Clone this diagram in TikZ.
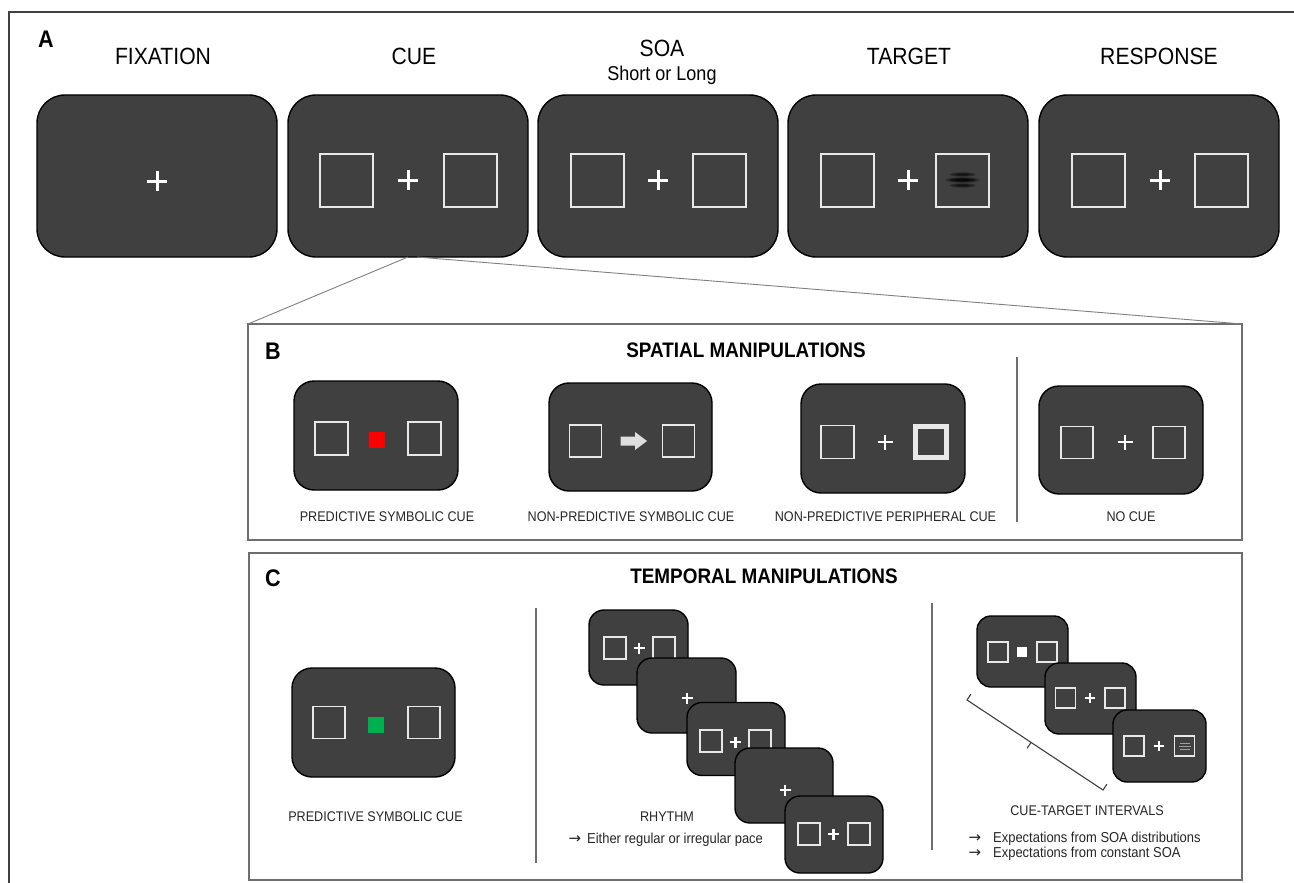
\documentclass[tikz,border=0pt]{standalone}
\usepackage{fontspec}
\setmainfont{Liberation Sans}[FakeStretch=0.9]
\newfontfamily\arrowfont{DejaVu Sans}
\usetikzlibrary{calc}
\definecolor{scrgray}{HTML}{404040}
\definecolor{sqcol}{HTML}{E8E8E8}
\definecolor{framecol}{HTML}{6E6E6E}
\definecolor{cuered}{HTML}{FF0000}
\definecolor{cuegreen}{HTML}{00B050}
\definecolor{arrowcol}{HTML}{DEDEDE}
\tikzset{
  scr/.style={draw=black, line width=1.4pt, fill=scrgray, inner sep=0pt, outer sep=0pt},
  sqline/.style={draw=sqcol},
  plusline/.style={draw=white},
  panelframe/.style={draw=framecol, line width=1.5pt, inner sep=0pt, outer sep=0pt},
  divline/.style={draw=framecol, line width=1.3pt},
  zoomline/.style={draw=gray, line width=0.9pt},
  titletxt/.style={inner sep=0pt, font=\fontsize{23.5}{26}\selectfont},
  subtitletxt/.style={inner sep=0pt, font=\fontsize{20}{23}\selectfont},
  paneltitle/.style={inner sep=0pt, font=\bfseries\fontsize{21}{24}\selectfont},
  letter/.style={inner sep=0pt, font=\bfseries\fontsize{24}{27}\selectfont},
  labtxt/.style={inner sep=0pt, font=\fontsize{14}{16}\selectfont, text=black!85},
  notetxt/.style={inner sep=0pt, font=\fontsize{14.4}{16}\selectfont, text=black!85},
  arrowtxt/.style={inner sep=0pt, font=\arrowfont\fontsize{15}{16}\selectfont, text=black!85},
  gab/.style={fill=black, opacity=.3},
}
\newcommand\Screen[6]{\node[scr,minimum width=#4pt,minimum height=#5pt,rounded corners=#6pt] (#1) at (#2,#3) {};}
\newcommand\SqBox[4]{\draw[sqline,line width=#4pt] (#1-#3/2,#2-#3/2) rectangle (#1+#3/2,#2+#3/2);}
\newcommand\PlusSign[4]{\draw[plusline,line width=#4pt] (#1-#3,#2) -- (#1+#3,#2) (#1,#2-#3) -- (#1,#2+#3);}
\newcommand\GabStripe[4]{% x y rx ry
  \fill[gab] (#1,#2) ellipse (#3 and #4);
  \fill[gab] (#1,#2) ellipse (#3*0.75 and #4*0.7);
  \fill[gab] (#1,#2) ellipse (#3*0.5 and #4*0.45);}
\begin{document}
\begin{tikzpicture}[x=1pt,y=-1pt]
\useasboundingbox[fill=white] (0,0) rectangle (1294,883);
% outer frame (cropped)
\draw[black!75, line width=1.5pt] (9,883) -- (9,12) -- (1294,12);
\node[letter] (lA) at (46,39) {A};
% ---------- Panel A -------------
\node[titletxt] (tFix) at (163,56) {FIXATION};
\node[titletxt] (tCue) at (414,56) {CUE};
\node[titletxt] (tSoa) at (662,48) {SOA};
\node[subtitletxt] (tSoa2) at (662,75) {Short or Long};
\node[titletxt] (tTar) at (909,56) {TARGET};
\node[titletxt] (tRes) at (1159,56) {RESPONSE};

\Screen{sFix}{157}{176}{240}{162}{28}
\PlusSign{157}{181}{10}{3}

\Screen{sCue}{408}{176}{240}{162}{28}
\SqBox{346}{180}{53}{2}
\SqBox{470}{180}{53}{2}
\PlusSign{408}{180}{10}{3}

\Screen{sSoa}{658}{176}{240}{162}{28}
\SqBox{597}{180}{53}{2}
\SqBox{719}{180}{53}{2}
\PlusSign{658}{180}{10}{3}

\Screen{sTar}{908}{176}{240}{162}{28}
\SqBox{847}{180}{53}{2}
\SqBox{962.5}{180}{53}{2}
\PlusSign{908}{180}{10}{3}
% gabor patch
\GabStripe{962.5}{174.5}{13}{2.2}
\GabStripe{962.5}{180}{17}{2.8}
\GabStripe{962.5}{180}{14}{1.6}
\GabStripe{962.5}{185.5}{13}{2.2}

\Screen{sRes}{1159}{176}{240}{162}{28}
\SqBox{1098}{180}{53}{2}
\SqBox{1221}{180}{53}{2}
\PlusSign{1160}{180}{10}{3}

% ---------- Panel B -------------
\node[panelframe, minimum width=994pt, minimum height=216pt] (pB) at (745,432) {};
\draw[zoomline] ($(sCue.south)+(0,0)$) -- (pB.north west);
\draw[zoomline] ($(sCue.south)+(9,0)$) -- (pB.north east);
\node[letter] (lB) at (273,351) {B};
\node[paneltitle] (tB) at (746,350) {SPATIAL MANIPULATIONS};
\draw[divline] (1017,357) -- (1017,522);

\Screen{b1}{376}{435.5}{164}{109}{20}
\SqBox{331.5}{438.5}{33}{1.9}
\SqBox{424.5}{438.5}{33}{1.9}
\fill[cuered] (368.5,431.5) rectangle (384.5,447.5);
\node[labtxt] (lb1) at (387,517) {PREDICTIVE SYMBOLIC CUE};

\Screen{b2}{630.5}{437}{163}{108}{20}
\SqBox{585.5}{441}{32}{1.9}
\SqBox{678.5}{441}{32}{1.9}
\fill[arrowcol] (620.5,436.5) -- (635,436.5) -- (635,432) -- (647,441) -- (635,450) -- (635,445.5) -- (620.5,445.5) -- cycle;
\node[labtxt] (lb2) at (631,517) {NON-PREDICTIVE SYMBOLIC CUE};

\Screen{b3}{883}{438.5}{164}{109}{20}
\SqBox{837.5}{442}{33}{1.9}
\SqBox{931}{442}{31}{5}
\PlusSign{885}{442}{7.5}{2.4}
\node[labtxt] (lb3) at (885.5,517) {NON-PREDICTIVE PERIPHERAL CUE};

\Screen{b4}{1121}{440}{164}{108}{20}
\SqBox{1077}{442.5}{32}{1.9}
\SqBox{1169}{442.5}{32}{1.9}
\PlusSign{1125}{442}{7.5}{2.4}
\node[labtxt] (lb4) at (1131,517) {NO CUE};

% ---------- Panel C -------------
\node[panelframe, minimum width=993pt, minimum height=327pt] (pC) at (745.5,716.5) {};
\node[letter] (lC) at (273,578) {C};
\node[paneltitle] (tC) at (764,576) {TEMPORAL MANIPULATIONS};
\draw[divline] (536,608) -- (536,863);
\draw[divline] (932,603) -- (932,850);

\Screen{c1}{373.5}{722.5}{163}{109}{20}
\SqBox{329}{722.5}{32}{1.9}
\SqBox{424}{722.5}{32}{1.9}
\fill[cuegreen] (368,716.5) rectangle (384,732.5);
\node[labtxt] (lc1) at (375.5,817) {PREDICTIVE SYMBOLIC CUE};

% rhythm sequence
\Screen{r1}{638.5}{647.5}{99}{75}{15}
\SqBox{614.5}{647.5}{22}{2}
\SqBox{664}{647.5}{22}{2}
\PlusSign{639}{648}{5.5}{2.2}
\Screen{r2}{686.5}{695.5}{99}{75}{15}
\PlusSign{687}{698}{5.5}{2.2}
\Screen{r3}{736}{739}{98}{73}{15}
\SqBox{711}{741}{22}{2}
\SqBox{760}{741}{22}{2}
\PlusSign{735.5}{742}{5.5}{2.2}
\Screen{r4}{784}{785.5}{98}{75}{15}
\PlusSign{785}{790}{5.5}{2.2}
\Screen{r5}{834}{834.5}{98}{77}{15}
\SqBox{809}{834}{22}{2}
\SqBox{859}{834}{22}{2}
\PlusSign{833.5}{834}{5.5}{2.2}
\node[labtxt] (lr) at (667,817) {RHYTHM};
\node[arrowtxt] (ra) at (575,840) {→};
\node[notetxt, anchor=west] (lr2) at (587,840) {Either regular or irregular pace};

% cue-target intervals
\Screen{t1}{1022.5}{651.5}{91}{71}{14}
\SqBox{998}{652}{20}{1.7}
\SqBox{1047}{652}{20}{1.7}
\fill[white] (1017,647) rectangle (1027,657);
\Screen{t2}{1090.5}{698.5}{91}{71}{14}
\SqBox{1065.5}{698}{20}{1.7}
\SqBox{1115}{698}{20}{1.7}
\PlusSign{1090}{698}{5}{2}
\Screen{t3}{1159.5}{746}{93}{72}{14}
\SqBox{1134}{746}{20}{1.7}
\SqBox{1184.5}{746}{20}{1.7}
\PlusSign{1159}{746}{5}{2}
\draw[gray!75, line width=0.9pt] (1179.5,743) -- (1189.5,743) (1178.5,746) -- (1190.5,746) (1179.5,749) -- (1189.5,749);
% bracket
\coordinate (bA) at (967,700);
\coordinate (bB) at (1103,790);
\coordinate (bM) at (1031,742.5);
\draw[black!75, line width=1.1pt] ($(bA)+(3.9,-5.8)$) -- (bA) -- (bB) -- ($(bB)+(3.9,-5.8)$);
\draw[black!75, line width=1.1pt] (bM) -- ($(bM)+(-3.9,5.8)$);
\node[labtxt] (lt) at (1087,811) {CUE-TARGET INTERVALS};
\node[arrowtxt] (ta1) at (975,839) {→};
\node[notetxt, anchor=west] (tx1) at (993,839) {Expectations from SOA distributions};
\node[arrowtxt] (ta2) at (975,854) {→};
\node[notetxt, anchor=west] (tx2) at (993,854) {Expectations from constant SOA};
\end{tikzpicture}
\end{document}
